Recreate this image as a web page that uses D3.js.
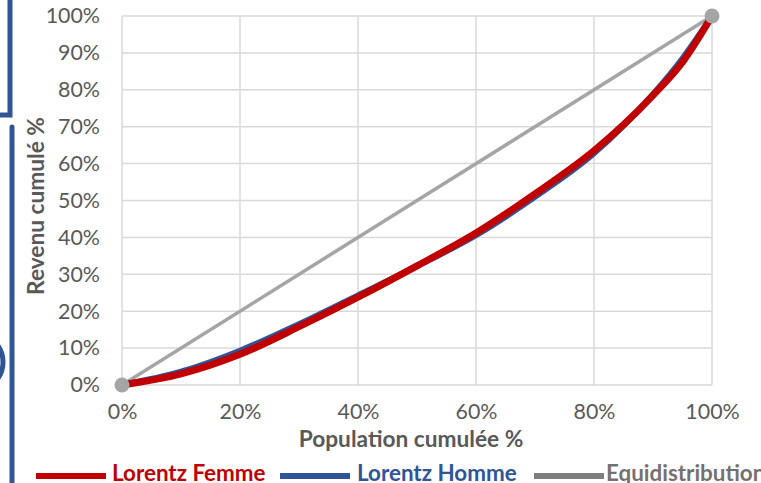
<!DOCTYPE html>
<html>
<head>
<meta charset="utf-8">
<script src="https://cdn.jsdelivr.net/npm/d3@7"></script>
<style>
  html, body { margin: 0; padding: 0; background: #fff; overflow: hidden; }
  svg { display: block; }
  text { font-family: "Lato", "Open Sans", sans-serif; }
</style>
</head>
<body>
<svg id="chart" width="761" height="483"></svg>
<script>
// ---- data ----
const population = [0, 10, 20, 30, 40, 50, 60, 70, 80, 90, 95, 100];
const lorentzFemme = [0, 3.0, 8.3, 15.8, 23.8, 32.3, 41.2, 51.8, 63.5, 78.5, 87.5, 100];
const lorentzHomme = [0, 3.6, 9.3, 16.5, 24.3, 32.2, 40.6, 51.0, 62.8, 78.8, 88.5, 100];
const equiX = [0, 100];
const equiY = [0, 100];
const xTicks = [0, 20, 40, 60, 80, 100];
const yTicks = [0, 10, 20, 30, 40, 50, 60, 70, 80, 90, 100];
const seriesNames = ["Lorentz Femme", "Lorentz Homme", "Equidistribution"];
const xTitle = "Population cumulée %";
const yTitle = "Revenu cumulé %";

const colors = { femme: "#c00000", homme: "#2f5597", equi: "#a5a5a5" };
const legendColors = ["#c00000", "#2f5597", "#7f7f7f"];
const legendTextColors = ["#c00000", "#2f5597", "#767171"];

const svg = d3.select("#chart");
const x = d3.scaleLinear().domain([0, 100]).range([122, 712]);
const y = d3.scaleLinear().domain([0, 100]).range([385, 16]);

// decorations on the left edge
const deco = svg.append("g").attr("fill", "none").attr("stroke", "#2f5597").attr("stroke-width", 5);
deco.append("path").attr("d", "M10,-5 V115 H-5").attr("stroke-linejoin", "miter");
deco.append("line").attr("x1", 12).attr("x2", 12).attr("y1", 127).attr("y2", 490).attr("stroke-linecap", "round");
deco.append("circle").attr("cx", -26).attr("cy", 362).attr("r", 29);

// grid
const grid = svg.append("g").attr("stroke", "#d9d9d9").attr("stroke-width", 1.5);
grid.selectAll(".h").data(yTicks).join("line")
  .attr("x1", x(0)).attr("x2", x(100)).attr("y1", d => y(d)).attr("y2", d => y(d));
grid.selectAll(".v").data(xTicks).join("line")
  .attr("y1", y(0)).attr("y2", y(100)).attr("x1", d => x(d)).attr("x2", d => x(d));

// axes labels
const yAxis = d3.axisLeft(y).tickValues(yTicks).tickFormat(d => d + "%").tickSize(0).tickPadding(22);
const gy = svg.append("g").attr("transform", `translate(${x(0)},0)`).call(yAxis);
gy.select(".domain").remove();
gy.selectAll("text").attr("fill", "#595959").style("font-size", "21.4px").style("font-family", "Lato");

const xAxis = d3.axisBottom(x).tickValues(xTicks).tickFormat(d => d + "%").tickSize(0).tickPadding(19);
const gx = svg.append("g").attr("transform", `translate(0,${y(0)})`).call(xAxis);
gx.select(".domain").remove();
gx.selectAll("text").attr("fill", "#595959").style("font-size", "21.4px").style("font-family", "Lato");

// titles
svg.append("text").attr("x", 411).attr("y", 447).attr("text-anchor", "middle")
  .attr("fill", "#595959").style("font-size", "22.7px").style("font-weight", "bold").text(xTitle);
svg.append("text").attr("transform", `translate(44,${206}) rotate(-90)`).attr("text-anchor", "middle")
  .attr("fill", "#595959").style("font-size", "22.7px").style("font-weight", "bold").text(yTitle);

// lines
const line = d3.line().x(d => x(d[0])).y(d => y(d[1])).curve(d3.curveMonotoneX);
const equiData = d3.zip(equiX, equiY);
svg.append("path").datum(equiData).attr("d", line).attr("fill", "none")
  .attr("stroke", colors.equi).attr("stroke-width", 3.5);
svg.append("path").datum(d3.zip(population, lorentzHomme)).attr("d", line).attr("fill", "none")
  .attr("stroke", colors.homme).attr("stroke-width", 6).attr("stroke-linecap", "round");
svg.append("path").datum(d3.zip(population, lorentzFemme)).attr("d", line).attr("fill", "none")
  .attr("stroke", colors.femme).attr("stroke-width", 7).attr("stroke-linecap", "round");
svg.selectAll(".marker").data(equiData).join("circle")
  .attr("cx", d => x(d[0])).attr("cy", d => y(d[1])).attr("r", 7.5).attr("fill", colors.equi);

// legend
const legendX = [36, 280, 534];
const legendTextX = [112, 357, 606];
const lg = svg.append("g");
seriesNames.forEach((name, i) => {
  lg.append("line").attr("x1", legendX[i]).attr("x2", legendX[i] + 70)
    .attr("y1", 476).attr("y2", 476).attr("stroke", legendColors[i]).attr("stroke-width", 6);
  lg.append("text").attr("x", legendTextX[i]).attr("y", 481)
    .attr("fill", legendTextColors[i]).style("font-size", "22.4px").style("font-weight", "bold").text(name);
});
</script>
</body>
</html>
